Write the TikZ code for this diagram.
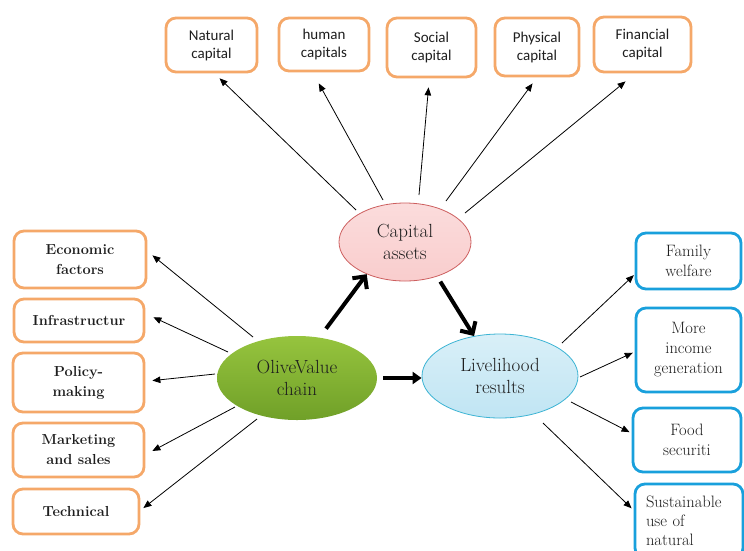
\documentclass[tikz,border=0pt]{standalone}
\usepackage{fontspec}
\newfontfamily\carlito{Carlito}
\usetikzlibrary{arrows.meta,shapes.geometric}
\definecolor{boxorange}{RGB}{245,168,105}
\definecolor{boxblue}{RGB}{25,160,220}
\definecolor{pinkfill}{RGB}{249,205,205}
\definecolor{pinkdraw}{RGB}{205,95,95}
\definecolor{olivetop}{RGB}{150,196,62}
\definecolor{olivebot}{RGB}{112,160,40}
\definecolor{bluefill}{RGB}{192,229,243}
\definecolor{bluedraw}{RGB}{60,180,212}
\definecolor{txt}{RGB}{30,30,30}
\begin{document}
\begin{tikzpicture}[x=1pt,y=-1pt, text=txt,
  capbox/.style={draw=boxorange, line width=2.8pt, rounded corners=10pt, align=center,
    font=\carlito\fontsize{15}{18}\selectfont, inner sep=0pt},
  leftbox/.style={draw=boxorange, line width=2.8pt, rounded corners=10pt, align=center,
    font=\bfseries\fontsize{14.5}{20}\selectfont, inner sep=0pt},
  rightbox/.style={draw=boxblue, line width=2.8pt, rounded corners=10pt, align=center,
    font=\fontsize{16.5}{20}\selectfont, inner sep=0pt},
  oval/.style={ellipse, inner sep=0pt, align=center, font=\fontsize{19}{22}\selectfont},
  smallarrow/.style={line width=0.8pt, -{Triangle[length=8pt,width=6.5pt]}},
  bigarrow/.style={line width=4pt}
]
\useasboundingbox (0,0) rectangle (744,550);
\fill[white] (0,0) rectangle (744,550);

% top boxes
\node[capbox, minimum width=91, minimum height=54] (nat) at (211.5,45) {Natural\\capital};
\node[capbox, minimum width=90, minimum height=53] (hum) at (324,44.5) {human\\capitals};
\node[capbox, minimum width=89, minimum height=59] (soc) at (431.5,47.5) {Social\\capital};
\node[capbox, minimum width=84, minimum height=58] (phy) at (537,47) {Physical\\capital};
\node[capbox, minimum width=97, minimum height=55] (fin) at (642.5,44.5) {Financial\\capital};

% left boxes
\node[leftbox, minimum width=132, minimum height=57] (eco) at (80,259.5) {Economic\\factors};
\node[leftbox, minimum width=130, minimum height=43] (inf) at (79,320.5) {Infrastructur};
\node[leftbox, minimum width=131, minimum height=59] (pol) at (78.5,382.5) {Policy-\\making};
\node[leftbox, minimum width=131, minimum height=54] (mar) at (78.5,450) {Marketing\\and sales};
\node[leftbox, minimum width=126, minimum height=45] (tec) at (76,511.5) {Technical};

% right boxes
\node[rightbox, minimum width=105, minimum height=56] (fam) at (688.5,261) {Family\\welfare};
\node[rightbox, minimum width=105, minimum height=84] (inc) at (688.5,350) {More\\income\\generation};
\node[rightbox, minimum width=108, minimum height=64] (foo) at (687,440) {Food\\securiti};
\node[rightbox, minimum width=108, minimum height=74, align=left, text width=86,
  font=\fontsize{16.5}{19}\selectfont] (sus) at (689,521) {Sustainable\\use of\\natural};

% ellipses
\node[oval, draw=pinkdraw, line width=0.8pt, top color=pinkfill!70!white, bottom color=pinkfill,
  minimum width=132, minimum height=78] (cap) at (405,242) {Capital\\assets};
\node[oval, top color=olivetop, bottom color=olivebot,
  minimum width=160, minimum height=84] (olive) at (297,378) {OliveValue\\chain};
\node[oval, draw=bluedraw, line width=0.8pt, top color=bluefill!60!white, bottom color=bluefill,
  minimum width=156, minimum height=84] (live) at (500,376) {Livelihood\\results};

% start points of thin connectors
\coordinate (sNat) at (356,210);
\coordinate (sHum) at (383,200);
\coordinate (sSoc) at (419,195);
\coordinate (sPhy) at (446,201);
\coordinate (sFin) at (465,213);
\coordinate (sEco) at (253,337);
\coordinate (sInf) at (228,352);
\coordinate (sPol) at (215,374);
\coordinate (sMar) at (235,407);
\coordinate (sTec) at (257,419);
\coordinate (sFam) at (562,343);
\coordinate (sInc) at (580,377);
\coordinate (sFoo) at (571,402);
\coordinate (sSus) at (543,423);

% thin connectors
\draw[smallarrow, shorten >=7pt] (sNat) -- (nat.276.7);
\draw[smallarrow, shorten >=12.5pt] (sHum) -- (hum.248.2);
\draw[smallarrow, shorten >=9pt] (sSoc) -- (soc.266.8);
\draw[smallarrow, shorten >=7.5pt] (sPhy) -- (phy.270.8);
\draw[smallarrow, shorten >=12.6pt] (sFin) -- (fin.256.8);

\draw[smallarrow, shorten >=6.5pt] (sEco) -- (eco.7.3);
\draw[smallarrow, shorten >=8.8pt] (sInf) -- (inf.6.2);
\draw[smallarrow, shorten >=7pt] (sPol) -- (pol.1.6);
\draw[smallarrow, shorten >=7.9pt] (sMar) -- (mar.356);
\draw[smallarrow, shorten >=3.8pt] (sTec) -- (tec.1.1);

\draw[smallarrow, shorten >=1pt] (sFam) -- (fam.194.7);
\draw[smallarrow, shorten >=2pt] (sInc) -- (inc.182.2);
\draw[smallarrow, shorten >=2.3pt] (sFoo) -- (foo.173.8);
\draw[smallarrow, shorten >=2.8pt] (sSus) -- (sus.169.2);

% thick connectors
\draw[bigarrow, -{Straight Barb[length=9pt,width=18pt]}, shorten <=11pt] (olive.61.8) -- (cap.220.1);
\draw[bigarrow, -{Straight Barb[length=9pt,width=18pt]}, shorten <=6pt] (cap.313.6) -- (live.123.7);
\draw[bigarrow, -{Triangle[length=9pt,width=12pt]}, shorten <=6pt] (olive.east) -- (olive.east -| live.west);
\end{tikzpicture}
\end{document}
